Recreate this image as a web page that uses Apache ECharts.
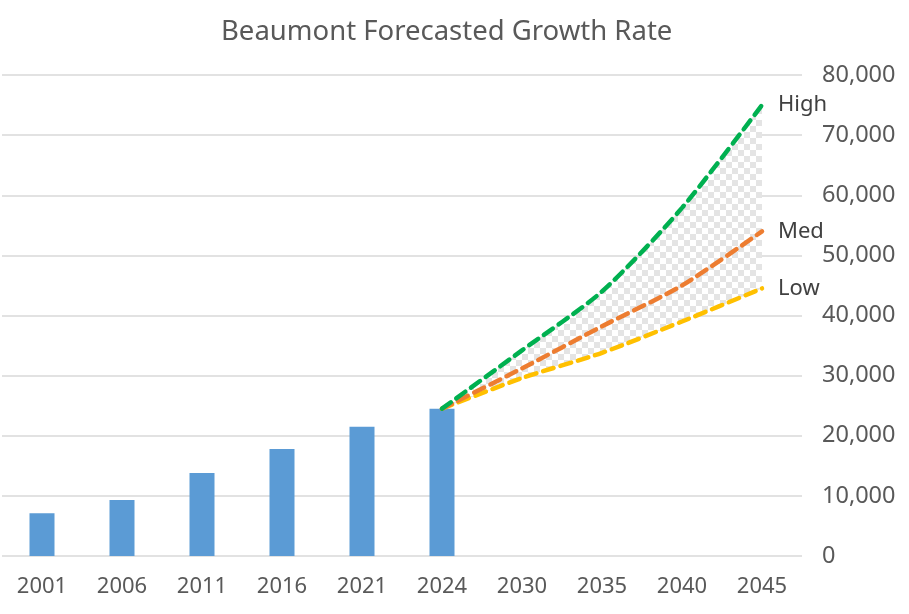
<!DOCTYPE html>
<html>
<head>
<meta charset="utf-8">
<script src="https://cdn.jsdelivr.net/npm/echarts@6/dist/echarts.min.js"></script>
<style>
html,body{margin:0;padding:0;background:#fff;}
#chart{width:909px;height:614px;}
</style>
</head>
<body>
<div id="chart"></div>
<script>
const categories = ['2001','2006','2011','2016','2021','2024','2030','2035','2040','2045'];
const population = [7100, 9300, 13800, 17800, 21500, 24500, null, null, null, null];
const highForecast = [null, null, null, null, null, 24500, 34200, 44000, 57900, 75000];
const medForecast  = [null, null, null, null, null, 24500, 31200, 38200, 45000, 54000];
const lowForecast  = [null, null, null, null, null, 24500, 29600, 33800, 39000, 44500];
const yTicks = [0, 10000, 20000, 30000, 40000, 50000, 60000, 70000, 80000];

const bandWidth = highForecast.map((v, i) => (v == null || lowForecast[i] == null) ? null : v - lowForecast[i]);

function checker() {
  const c = document.createElement('canvas');
  c.width = 12; c.height = 12;
  const g = c.getContext('2d');
  g.fillStyle = '#ffffff'; g.fillRect(0, 0, 12, 12);
  g.fillStyle = '#e4e4e4';
  g.fillRect(0, 0, 6, 6); g.fillRect(6, 6, 6, 6);
  return c;
}

const FONT = 'Noto Sans';
const chart = echarts.init(document.getElementById('chart'));
const dashed = (color) => ({ color: color, width: 4.5, type: [11, 7], cap: 'round' });
const endLbl = { show: true, formatter: '{a}', distance: 16, color: '#404040', fontFamily: FONT, fontSize: 22 };

chart.setOption({
  animation: false,
  backgroundColor: '#ffffff',
  title: {
    text: 'Beaumont Forecasted Growth Rate',
    left: 216, top: 13,
    textStyle: { fontFamily: FONT, fontSize: 27.5, fontWeight: 'normal', color: '#595959' }
  },
  grid: { left: 2, right: 107, top: 75, bottom: 58 },
  xAxis: {
    type: 'category',
    data: categories,
    boundaryGap: true,
    axisLine: { show: false },
    axisTick: { show: false },
    axisLabel: { fontFamily: FONT, fontSize: 22, color: '#595959', margin: 20 }
  },
  yAxis: {
    type: 'value',
    position: 'right',
    min: yTicks[0], max: yTicks[yTicks.length - 1], interval: 10000,
    axisLine: { show: false },
    axisTick: { show: false },
    splitLine: { lineStyle: { color: '#d9d9d9', width: 1.5 } },
    axisLabel: {
      fontFamily: FONT, fontSize: 23.5, color: '#595959', margin: 20,
      formatter: (v) => v.toLocaleString('en-US')
    }
  },
  series: [
    { name: 'Population', type: 'bar', data: population, barWidth: 25, itemStyle: { color: '#5b9bd5' }, z: 1 },
    { name: 'base', type: 'line', stack: 'band', data: lowForecast, symbol: 'none', smooth: 0.25,
      lineStyle: { opacity: 0 }, silent: true, z: 2 },
    { name: 'band', type: 'line', stack: 'band', data: bandWidth, symbol: 'none', smooth: 0.25,
      lineStyle: { opacity: 0 }, silent: true, z: 2,
      areaStyle: { color: { image: checker(), repeat: 'repeat' }, opacity: 1 } },
    { name: 'Low', type: 'line', data: lowForecast, symbol: 'none', smooth: 0.25, lineStyle: dashed('#ffc000'), endLabel: endLbl, z: 5 },
    { name: 'Med', type: 'line', data: medForecast, symbol: 'none', smooth: 0.25, lineStyle: dashed('#ed7d31'), endLabel: endLbl, z: 5 },
    { name: 'High', type: 'line', data: highForecast, symbol: 'none', smooth: 0.25, lineStyle: dashed('#00b050'), endLabel: endLbl, z: 5 }
  ]
});
</script>
</body>
</html>
